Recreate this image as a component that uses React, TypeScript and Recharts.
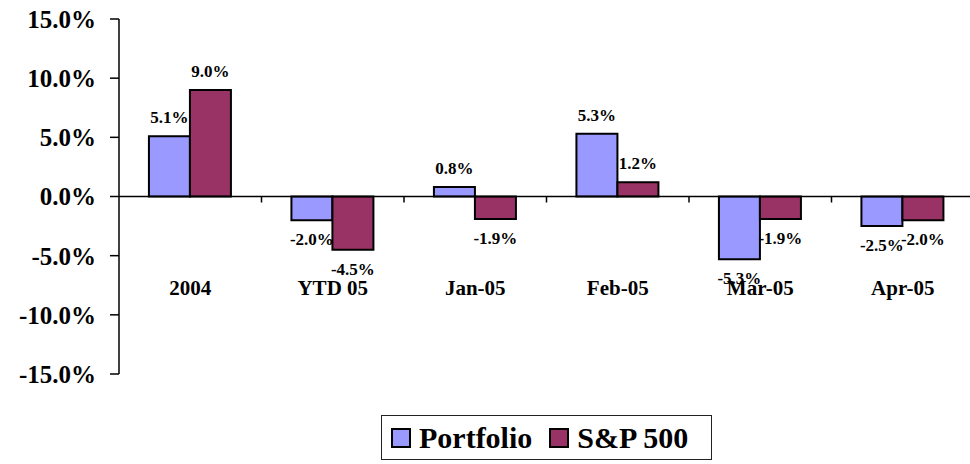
import React from 'react';
import { BarChart, Bar, XAxis, YAxis, LabelList, ReferenceLine, Legend } from 'recharts';

const categories = ['2004', 'YTD 05', 'Jan-05', 'Feb-05', 'Mar-05', 'Apr-05'];
const portfolio = [5.1, -2.0, 0.8, 5.3, -5.3, -2.5];
const sp500 = [9.0, -4.5, -1.9, 1.2, -1.9, -2.0];
const yTicks = [-15, -10, -5, 0, 5, 10, 15];

const data = categories.map((c, i) => ({ name: c, portfolio: portfolio[i], sp500: sp500[i] }));

const FONT = 'Liberation Serif, Tinos, DejaVu Serif, serif';
const CHART_W = 974;
const CHART_H = 464;
const M_TOP = 19;
const M_BOTTOM = 60;
const X_AXIS_H = 30;
const Y_AXIS_W = 119;
const PLOT_H = CHART_H - M_TOP - M_BOTTOM - X_AXIS_H;
const PLOT_W = CHART_W - Y_AXIS_W;
const STEP = PLOT_W / categories.length;
const ZERO_Y = M_TOP + PLOT_H / 2;
const LABEL_Y = ZERO_Y + 98;

const pct = (v: number) => `${Number(v).toFixed(1)}%`;

const CategoryTick = (props: any) => {
  const { x, index, payload } = props;
  return (
    <g>
      {index > 0 && (
        <line x1={x - STEP / 2} x2={x - STEP / 2} y1={ZERO_Y} y2={ZERO_Y + 6} stroke="#000" strokeWidth={1.5} />
      )}
      <text x={x} y={LABEL_Y} textAnchor="middle" style={{ fontFamily: FONT, fontWeight: 'bold', fontSize: 21 }} fill="#000">
        {payload.value}
      </text>
    </g>
  );
};

const LegendContent = (props: any) => {
  const { payload } = props;
  return (
    <div
      style={{
        display: 'flex',
        alignItems: 'center',
        height: 45,
        width: 331,
        boxSizing: 'border-box',
        border: '1px solid #222',
        paddingLeft: 9,
        fontFamily: FONT,
        fontWeight: 'bold',
        fontSize: 30,
        color: '#000',
        background: '#fff',
      }}
    >
      {(payload || []).map((p: any, i: number) => (
        <div key={i} style={{ display: 'flex', alignItems: 'center', marginRight: i === 0 ? 17 : 0 }}>
          <div
            style={{
              width: 20,
              height: 20,
              boxSizing: 'border-box',
              border: '2px solid #000',
              background: p.color,
              marginRight: 8,
            }}
          />
          <span style={{ lineHeight: '30px', whiteSpace: 'nowrap' }}>{p.value}</span>
        </div>
      ))}
    </div>
  );
};

export default function App() {
  return (
    <div
      style={{
        position: 'absolute',
        left: 0,
        top: 0,
        width: 970,
        height: 464,
        overflow: 'hidden',
        background: '#fff',
        fontFamily: FONT,
      }}
    >
      <BarChart
        width={CHART_W}
        height={CHART_H}
        data={data}
        margin={{ top: M_TOP, right: 0, bottom: M_BOTTOM, left: 0 }}
        barCategoryGap="21%"
        barGap={0}
        style={{ fontFamily: FONT }}
      >
        <XAxis
          dataKey="name"
          height={X_AXIS_H}
          axisLine={false}
          tickLine={false}
          interval={0}
          tick={<CategoryTick />}
        />
        <YAxis
          width={Y_AXIS_W}
          domain={[-15, 15]}
          ticks={yTicks}
          interval={0}
          tickFormatter={pct}
          axisLine={{ stroke: '#000', strokeWidth: 1.5 }}
          tickLine={{ stroke: '#000', strokeWidth: 1.5 }}
          tickSize={9}
          tickMargin={14}
          tick={{ style: { fontFamily: FONT, fontWeight: 'bold', fontSize: 25 }, fill: '#000' }}
        />
        <ReferenceLine y={0} stroke="#000" strokeWidth={1.5} />
        <Legend
          layout="horizontal"
          verticalAlign="middle"
          align="center"
          content={<LegendContent />}
          wrapperStyle={{ left: 381, top: 415, width: 331, height: 45 }}
        />
        <Bar dataKey="portfolio" name="Portfolio" fill="#9999FF" stroke="#000" strokeWidth={2} isAnimationActive={false}>
          <LabelList
            dataKey="portfolio"
            position="top"
            offset={13}
            formatter={pct}
            style={{ fontFamily: FONT, fontWeight: 'bold', fontSize: 17, fill: '#000' }}
          />
        </Bar>
        <Bar dataKey="sp500" name="S&P 500" fill="#993366" stroke="#000" strokeWidth={2} isAnimationActive={false}>
          <LabelList
            dataKey="sp500"
            position="top"
            offset={13}
            formatter={pct}
            style={{ fontFamily: FONT, fontWeight: 'bold', fontSize: 17, fill: '#000' }}
          />
        </Bar>
      </BarChart>
    </div>
  );
}
